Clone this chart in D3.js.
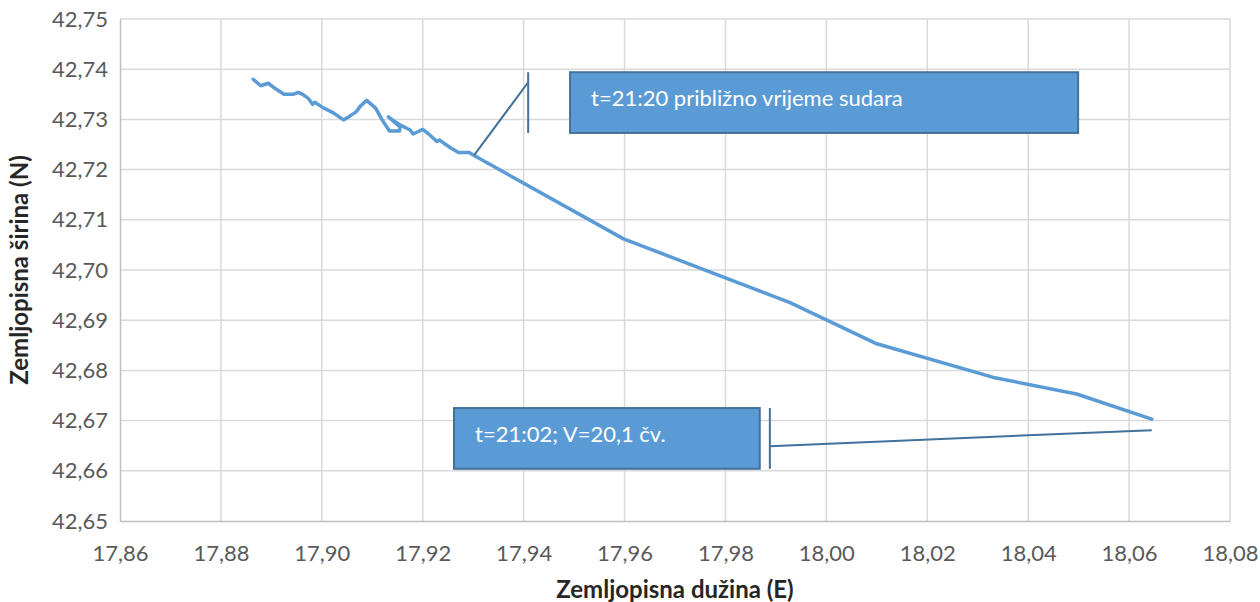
<!DOCTYPE html>
<meta charset="utf-8">
<style>
  body { margin: 0; background: #fff; }
  text { font-family: Lato, "Open Sans", sans-serif; }
</style>
<svg></svg>
<script src="https://d3js.org/d3.v7.min.js"></script>
<script>
var width = 1260,
    height = 602;

// track (lon E, lat N)
var lon = [17.8864, 17.8879, 17.8894, 17.8907, 17.8925, 17.8943, 17.8953, 17.8962, 17.8973, 17.8982,
           17.8986, 17.9003, 17.9023, 17.9043, 17.9056, 17.9068, 17.9076, 17.9089, 17.9107, 17.9119,
           17.9134, 17.9154, 17.9155, 17.9132, 17.9143, 17.9155, 17.9175, 17.9181, 17.9200, 17.9214,
           17.9228, 17.9233, 17.9254, 17.9271, 17.9292, 17.9300, 17.9598, 17.9928, 18.0100, 18.0331,
           18.0496, 18.0645];
var lat = [42.7380, 42.7367, 42.7372, 42.7362, 42.7350, 42.7350, 42.7354, 42.7350, 42.7342, 42.7330,
           42.7334, 42.7323, 42.7313, 42.7299, 42.7307, 42.7315, 42.7326, 42.7338, 42.7322, 42.7300,
           42.7277, 42.7277, 42.7285, 42.7305, 42.7297, 42.7289, 42.7279, 42.7271, 42.7280, 42.7269,
           42.7256, 42.7259, 42.7244, 42.7234, 42.7234, 42.7229, 42.7062, 42.6935, 42.6853, 42.6786,
           42.6753, 42.6703];

var xTicks = [17.86, 17.88, 17.90, 17.92, 17.94, 17.96, 17.98, 18.00, 18.02, 18.04, 18.06, 18.08];
var yTicks = [42.65, 42.66, 42.67, 42.68, 42.69, 42.70, 42.71, 42.72, 42.73, 42.74, 42.75];

var xTitle = "Zemljopisna dužina (E)";
var yTitle = "Zemljopisna širina (N)";

// callouts: text, point the leader goes to, box corners and accent bar, all in data units
var calloutText = ["t=21:20 približno vrijeme sudara", "t=21:02; V=20,1 čv."];
var calloutPoint = [[17.9302, 42.7229], [18.0645, 42.6681]];
var calloutBox = [[17.9492, 42.7394, 18.0499, 42.7273], [17.9262, 42.6725, 17.9868, 42.6604]];
var calloutBar = [[17.9409, 42.7374], [17.9888, 42.6649]];

var fmt = function(d) { return d3.format(".2f")(d).replace(".", ","); };

var svg = d3.select("svg")
    .attr("width", width)
    .attr("height", height);

var x = d3.scaleLinear().domain([17.86, 18.08]).range([120, 1230]);
var y = d3.scaleLinear().domain([42.65, 42.75]).range([521, 19]);

// grid
svg.append("g")
  .selectAll("line")
  .data(xTicks.slice(1))
  .enter().append("line")
    .attr("x1", function(d) { return x(d); })
    .attr("x2", function(d) { return x(d); })
    .attr("y1", y(42.75))
    .attr("y2", y(42.65))
    .attr("stroke", "#d9d9d9")
    .attr("stroke-width", 1.5);

svg.append("g")
  .selectAll("line")
  .data(yTicks.slice(1))
  .enter().append("line")
    .attr("x1", x(17.86))
    .attr("x2", x(18.08))
    .attr("y1", function(d) { return y(d); })
    .attr("y2", function(d) { return y(d); })
    .attr("stroke", "#d9d9d9")
    .attr("stroke-width", 1.5);

// axes
var xAxis = svg.append("g")
    .attr("transform", "translate(0," + y(42.65) + ")")
    .call(d3.axisBottom(x).tickValues(xTicks).tickFormat(fmt).tickSize(0).tickPadding(24));
var yAxis = svg.append("g")
    .attr("transform", "translate(" + x(17.86) + ",0)")
    .call(d3.axisLeft(y).tickValues(yTicks).tickFormat(fmt).tickSize(0).tickPadding(12));

[xAxis, yAxis].forEach(function(a) {
  a.select(".domain").attr("stroke", "#bfbfbf").attr("stroke-width", 1.5);
  a.selectAll("text")
      .attr("fill", "#595959")
      .style("font-family", "Lato, 'Open Sans', sans-serif")
      .style("font-size", "22px");
});

// track
var line = d3.line()
    .x(function(d) { return x(d[0]); })
    .y(function(d) { return y(d[1]); });

svg.append("path")
    .datum(d3.zip(lon, lat))
    .attr("d", line)
    .attr("fill", "none")
    .attr("stroke", "#5b9bd5")
    .attr("stroke-width", 3.5)
    .attr("stroke-linejoin", "round")
    .attr("stroke-linecap", "round");

// callouts
calloutText.forEach(function(t, i) {
  var b = calloutBox[i], bar = calloutBar[i], p = calloutPoint[i];
  var g = svg.append("g");
  g.append("line")
      .attr("x1", x(bar[0])).attr("y1", y(bar[1]))
      .attr("x2", x(p[0])).attr("y2", y(p[1]))
      .attr("stroke", "#41719c")
      .attr("stroke-width", 2);
  g.append("line")
      .attr("x1", x(bar[0])).attr("x2", x(bar[0]))
      .attr("y1", y(b[1])).attr("y2", y(b[3]))
      .attr("stroke", "#41719c")
      .attr("stroke-width", 2);
  g.append("rect")
      .attr("x", x(b[0]))
      .attr("y", y(b[1]))
      .attr("width", x(b[2]) - x(b[0]))
      .attr("height", y(b[3]) - y(b[1]))
      .attr("fill", "#5b9bd5")
      .attr("stroke", "#41719c")
      .attr("stroke-width", 2);
  g.append("text")
      .attr("x", x(b[0]) + 21)
      .attr("y", y(b[1]) + 26)
      .attr("dy", "0.35em")
      .attr("fill", "#fff")
      .style("font-size", "22px")
      .text(t);
});

// titles
svg.append("text")
    .attr("x", (x(17.86) + x(18.08)) / 2)
    .attr("y", 590)
    .attr("dy", "0.35em")
    .attr("text-anchor", "middle")
    .attr("fill", "#262626")
    .style("font-weight", "bold")
    .style("font-size", "24px")
    .text(xTitle);

svg.append("text")
    .attr("transform", "translate(20," + (y(42.65) + y(42.75)) / 2 + ") rotate(-90)")
    .attr("dy", "0.35em")
    .attr("text-anchor", "middle")
    .attr("fill", "#262626")
    .style("font-weight", "bold")
    .style("font-size", "24px")
    .text(yTitle);
</script>
